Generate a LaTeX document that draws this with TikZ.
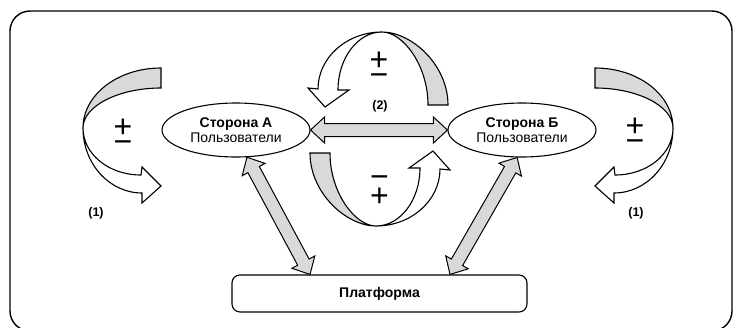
\documentclass[tikz,border=0pt]{standalone}
\usepackage{fontspec}
\setmainfont{Liberation Sans}
\usetikzlibrary{shapes.geometric,calc}

% broad two-headed arrow between two named points
\newcommand{\fatarrow}[2]{%
  \filldraw[fatshape] (#1)
    -- ($(#1)!14pt!(#2)!13pt!90:(#2)$)
    -- ($(#1)!14pt!(#2)!6.5pt!90:(#2)$)
    -- ($(#2)!14pt!(#1)!6.5pt!-90:(#1)$)
    -- ($(#2)!14pt!(#1)!13pt!-90:(#1)$)
    -- (#2)
    -- ($(#2)!14pt!(#1)!13pt!90:(#1)$)
    -- ($(#2)!14pt!(#1)!6.5pt!90:(#1)$)
    -- ($(#1)!14pt!(#2)!6.5pt!-90:(#2)$)
    -- ($(#1)!14pt!(#2)!13pt!-90:(#2)$)
    -- cycle;}

% twisted loop arrow at the left side
\newcommand{\sideloop}{%
  \filldraw[backface] (161,68) -- (161,88)
    .. controls (118.6,88) and (83,106) .. (83,128)
    .. controls (83,95) and (117.5,68) .. (161,68) -- cycle;
  \filldraw[frontface] (83,128)
    .. controls (83,164) and (109.5,193) .. (142,193)
    -- (142,203) -- (161,186) -- (142,167) -- (141,175)
    .. controls (108.6,175) and (83,154) .. (83,128) -- cycle;}

% twisted loop arrow above the middle
\newcommand{\toploop}{%
  \filldraw[backface] (448,105)
    .. controls (448,65) and (411.7,32) .. (382,32)
    .. controls (402.7,32) and (428,65) .. (428,105) -- cycle;
  \filldraw[frontface] (382,32)
    .. controls (346.8,32) and (318,57.6) .. (318,89)
    -- (308,88) -- (325,107) -- (349,90) -- (338,90)
    .. controls (338,58) and (357.8,32) .. (382,32) -- cycle;}

\begin{document}
\begin{tikzpicture}[x=1pt,y=-1pt,
    backface/.style={draw,line width=1.1pt,fill=gray!30},
    frontface/.style={draw,line width=1.1pt,fill=white},
    fatshape/.style={draw,line width=1pt,fill=gray!30},
    side/.style={ellipse,draw,line width=1.1pt,minimum width=148pt,
      minimum height=54pt,inner sep=1pt,align=center,
      font=\fontsize{14}{15}\selectfont},
    sign/.style={align=center,inner sep=0pt,font=\fontsize{32}{15}\selectfont},
    numlabel/.style={font=\bfseries\fontsize{12.5}{14}\selectfont}]
  \useasboundingbox (0,0) rectangle (734,327);
  \clip (0,0) rectangle (734,327);
  \draw[line width=1.4pt,rounded corners=20pt] (10,11) rectangle (732,331);

  % sides and platform
  \node[side] (sideA) at (236,130) {\textbf{Сторона А}\\Пользователи};
  \node[side] (sideB) at (522,130) {\textbf{Сторона Б}\\Пользователи};
  \node[draw,line width=1.1pt,rounded corners=8pt,minimum width=295pt,
    minimum height=37pt,font=\bfseries\fontsize{14}{16}\selectfont]
    (platform) at (379.5,293.5) {Платформа};
  \coordinate (platL) at ($(platform.north)+(-69.5,0)$);
  \coordinate (platR) at ($(platform.north)+(70.5,0)$);

  % loops
  \sideloop
  \begin{scope}[xshift=756pt,xscale=-1]
    \sideloop
  \end{scope}
  \toploop
  \begin{scope}[rotate around={180:(379,129)}]
    \toploop
  \end{scope}

  % links
  \fatarrow{sideA.east}{sideB.west}
  \fatarrow{sideA.-68}{platL}
  \fatarrow{sideB.-100}{platR}

  % signs and labels
  \node[sign] (pmL) at (123,136) {+\\−};
  \node[sign] (pmR) at (635,135) {+\\−};
  \node[sign] (pmT) at (379,69) {+\\−};
  \node[sign] (mpB) at (379.5,191) {−\\+};
  \node[numlabel] (oneL) at (96,213) {(1)};
  \node[numlabel] (oneR) at (636,213) {(1)};
  \node[numlabel] (two) at (380,106) {(2)};
\end{tikzpicture}
\end{document}
